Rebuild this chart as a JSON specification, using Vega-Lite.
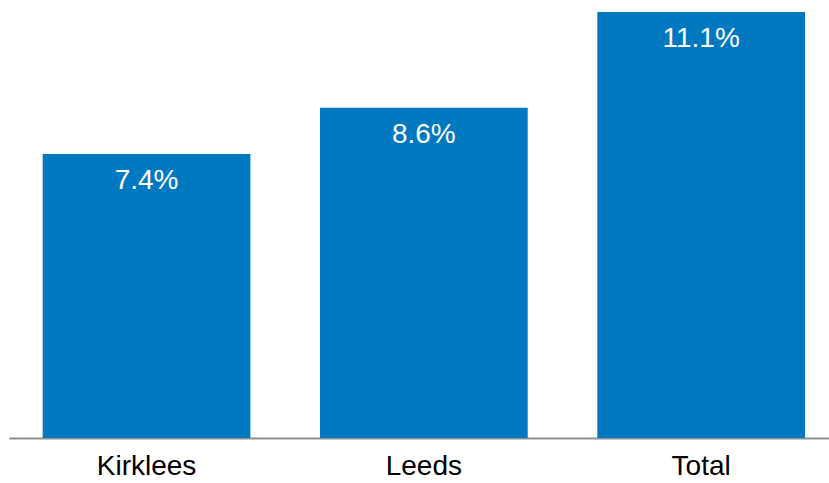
{
  "$schema": "https://vega.github.io/schema/vega-lite/v6.json",
  "width": 820,
  "height": 438,
  "autosize": {"type": "none"},
  "padding": {"left": 9, "top": 0, "right": 0, "bottom": 45},
  "background": "white",
  "config": {"view": {"stroke": null}, "font": "Liberation Sans"},
  "data": {"values": [
    {"area": "Kirklees", "value": 7.4, "label": "7.4%"},
    {"area": "Leeds", "value": 8.6, "label": "8.6%"},
    {"area": "Total", "value": 11.1, "label": "11.1%"}
  ]},
  "encoding": {
    "x": {"field": "area", "type": "nominal", "sort": null,
      "scale": {"paddingInner": 0.251, "paddingOuter": 0.104, "align": 0.584},
      "axis": {"title": null, "labelAngle": 0, "ticks": false, "domainColor": "#909090", "domainWidth": 2,
        "labelFontSize": 28, "labelColor": "#000000", "labelPadding": 14, "labelFont": "Liberation Sans"}},
    "y": {"field": "value", "type": "quantitative",
      "scale": {"domain": [0, 11.41], "nice": false, "zero": true},
      "axis": null}
  },
  "layer": [
    {"mark": {"type": "bar", "color": "#0079C1"}},
    {"mark": {"type": "text", "color": "white", "fontSize": 28, "baseline": "alphabetic", "dy": 35, "font": "Liberation Sans"},
     "encoding": {"text": {"field": "label"}}}
  ]
}
